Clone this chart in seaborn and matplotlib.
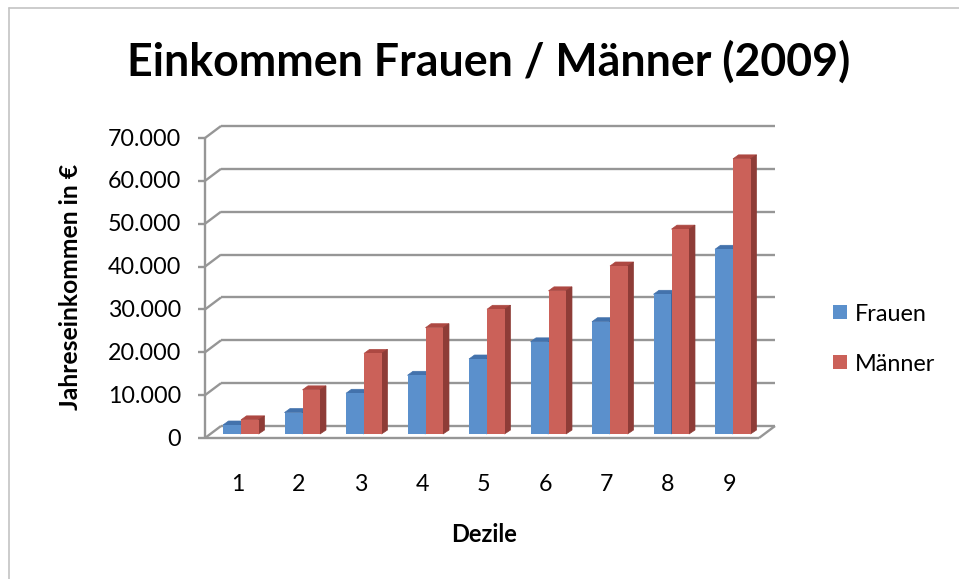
import numpy as np
import pandas as pd
import matplotlib
matplotlib.use("Agg")
import matplotlib.pyplot as plt
import seaborn as sns
from matplotlib.patches import Polygon, Rectangle
from matplotlib.lines import Line2D

# ---------------- data ----------------
dezile = ["1", "2", "3", "4", "5", "6", "7", "8", "9"]
frauen = [2100, 5000, 9500, 13700, 17500, 21500, 26200, 32600, 43100]
maenner = [3300, 10300, 18800, 24800, 29100, 33400, 39200, 47800, 64200]
series_names = ["Frauen", "Männer"]
yticks = [0, 10000, 20000, 30000, 40000, 50000, 60000, 70000]
ytick_labels = ["0", "10.000", "20.000", "30.000", "40.000", "50.000", "60.000", "70.000"]
title = "Einkommen Frauen / Männer (2009)"
xlabel = "Dezile"
ylabel = "Jahreseinkommen in €"

# ---------------- style ----------------
sns.set_theme(style="white")
plt.rcParams["font.family"] = ["Lato", "DejaVu Sans"]

blue, red = "#5b90cc", "#cb6159"
top_cols = {blue: "#4372ac", red: "#ad4842"}
side_cols = {blue: "#3e669e", red: "#8e3c37"}
grid_col = "#969696"
grid_lw = 1.7

W, H = 959, 579
fig = plt.figure(figsize=(W / 100, H / 100), dpi=100)
fig.patch.set_facecolor("white")

def fx(x):
    return x / W

def fy(y):
    return 1 - y / H

# bar plane geometry (pixels, y downward)
AX_L, AX_R, AX_T, AX_B = 205, 759, 134, 434
C0, STEP = 241, 61.5
ax = fig.add_axes([fx(AX_L), fy(AX_B), (AX_R - AX_L) / W, (AX_B - AX_T) / H])

df = pd.DataFrame({
    "Dezil": dezile * 2,
    "Einkommen": frauen + maenner,
    "Geschlecht": [series_names[0]] * len(dezile) + [series_names[1]] * len(dezile),
})
sns.barplot(data=df, x="Dezil", y="Einkommen", hue="Geschlecht",
            palette=[blue, red], width=0.585, linewidth=0, saturation=1,
            legend=False, ax=ax, zorder=1)
bars = [p for p in ax.patches if isinstance(p, Rectangle)]
ax.set_xlim((AX_L - C0) / STEP, (AX_R - C0) / STEP)
ax.set_ylim(0, 70000)
ax.axis("off")

def d2p(x, y):
    X, Y = ax.transData.transform((x, y))
    return X, H - Y

def line(xs, ys, z=0.5, col=grid_col, lw=grid_lw):
    ax.add_line(Line2D([fx(v) for v in xs], [fy(v) for v in ys],
                       transform=fig.transFigure, color=col, lw=lw,
                       clip_on=False, zorder=z, solid_capstyle="butt"))

def poly(pts, col, z, ec="none"):
    ax.add_patch(Polygon([(fx(px), fy(py)) for px, py in pts], closed=True,
                         transform=fig.transFigure, facecolor=col, edgecolor=col if ec == "same" else ec,
                         lw=0.5 if ec != "none" else 0, clip_on=False, zorder=z))

# depth offsets
FRONT_DY = 4
BACK_DY = -8
FL, FR = 205, 759

# 3D faces of bars
DX, DY = 5.5, 4
for bar in bars:
    col = matplotlib.colors.to_hex(bar.get_facecolor()).lower()
    x0, w, h = bar.get_x(), bar.get_width(), bar.get_height()
    if h <= 0:
        continue
    px0, ptop = d2p(x0, h)
    px1, pbot = d2p(x0 + w, 0)
    poly([(px0, ptop), (px1, ptop), (px1 + DX, ptop - DY), (px0 + DX, ptop - DY)],
         top_cols.get(col, col), 0.9, ec="same")
    poly([(px1 - 0.5, ptop), (px1 + DX, ptop - DY), (px1 + DX, pbot - DY), (px1 - 0.5, pbot)],
         side_cols.get(col, col), 0.9, ec="same")

# floor slab
y0 = d2p(0, 0)[1]
poly([(FL, y0 + FRONT_DY), (FR, y0 + FRONT_DY), (FR + 16, y0 + BACK_DY),
      (FL + 16, y0 + BACK_DY)], "white", 0.4)
line([FL, FR], [y0 + FRONT_DY, y0 + FRONT_DY], z=0.45)
line([FR, FR + 16], [y0 + FRONT_DY, y0 + BACK_DY], z=0.45)

# back wall gridlines + left wall diagonals + front axis ticks
for v in yticks:
    yp = d2p(0, v)[1]
    yb = yp + BACK_DY
    yf = yp + FRONT_DY
    line([FL + 16, FR + 16], [yb, yb])
    line([FL, FL + 16], [yf, yb])
    line([FL - 7, FL], [yf, yf])
line([FL, FL], [d2p(0, yticks[-1])[1] + FRONT_DY, y0 + FRONT_DY])

# ---------------- texts ----------------
fig.canvas.draw()
renderer = fig.canvas.get_renderer()

def fit(t, target, dim="w"):
    for _ in range(3):
        bb = t.get_window_extent(renderer)
        cur = bb.width if dim == "w" else bb.height
        t.set_fontsize(t.get_fontsize() * target / cur)

t_title = fig.text(fx(489), fy(76), title, ha="center", va="baseline",
                   fontweight="bold", fontsize=28, color="black")
fit(t_title, 722)

probe = fig.text(0, 0, ytick_labels[-1], fontsize=16)
fit(probe, 73)
tick_fs = probe.get_fontsize()
probe.remove()

for v, lab in zip(yticks, ytick_labels):
    yf = d2p(0, v)[1] + FRONT_DY
    fig.text(fx(181), fy(yf + 7.5), lab, ha="right", va="baseline",
             fontsize=tick_fs, color="black")

for i, lab in enumerate(dezile):
    xp = d2p(i, 0)[0] - 3.5
    fig.text(fx(xp), fy(491), lab, ha="center", va="baseline",
             fontsize=tick_fs, color="black")

t_x = fig.text(fx(484), fy(542), xlabel, ha="center", va="baseline",
               fontweight="bold", fontsize=16, color="black")
fit(t_x, 66)

t_y = fig.text(fx(71), fy(287), ylabel, ha="center", va="center", rotation=90,
               fontweight="bold", fontsize=16, color="black")
fit(t_y, 246, dim="h")

# legend
leg_rows = [(series_names[0], blue, 312), (series_names[1], red, 362)]
leg_texts = []
for name, col, yc in leg_rows:
    fig.patches.append(Rectangle((fx(833), fy(yc + 7)), 14 / W, 14 / H,
                                 transform=fig.transFigure, facecolor=col,
                                 edgecolor="none"))
    leg_texts.append(fig.text(fx(855), fy(yc + 9), name, ha="left", va="baseline",
                              fontsize=tick_fs, color="black"))
fit(leg_texts[0], 72)
leg_texts[1].set_fontsize(leg_texts[0].get_fontsize())

# chart border
fig.add_artist(Line2D([fx(9), fx(9)], [fy(8), 0], transform=fig.transFigure,
                      color="#c4c4c4", lw=1.2))
fig.add_artist(Line2D([fx(9), 1], [fy(8), fy(8)], transform=fig.transFigure,
                      color="#c4c4c4", lw=1.2))

fig.savefig("out.png", dpi=100, facecolor="white")
